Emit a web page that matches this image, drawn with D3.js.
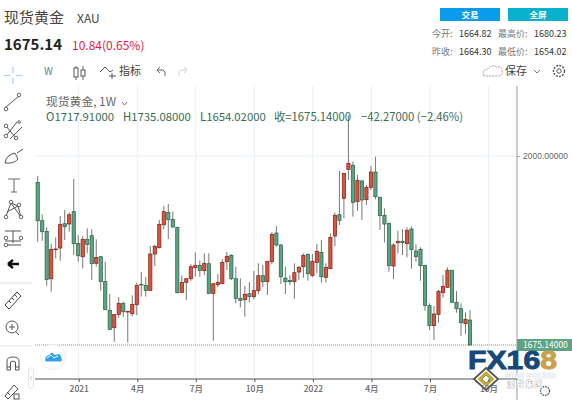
<!DOCTYPE html>
<html>
<head>
<meta charset="utf-8">
<script src="https://d3js.org/d3.v7.min.js"></script>
<style>
  html, body { margin: 0; padding: 0; background: #fff; overflow: hidden; }
  svg { display: block; font-family: "Noto Sans CJK SC", "Noto Sans", sans-serif; }
</style>
</head>
<body>
<div id="chart"></div>
<script>
// Weekly candles
const opens = [1954.7,1888.8,1870.5,1789.1,1839,1841.8,1883.6,1883.1,1904.3,1849.8,1826.9,1856.7,1863,1815.5,1826.9,1784.5,1734.7,1704.9,1727.8,1746.7,1731.8,1728.9,1744.4,1779.4,1777.6,1769,1831.5,1842.4,1881.9,1903.1,1891.1,1877.3,1765.6,1782.8,1789.1,1808,1812,1802.9,1814.9,1763.9,1778.8,1780.5,1818.3,1829.2,1789.1,1755.3,1753,1763.3,1758.2,1768.5,1794.3,1783.9,1818.3,1867.6,1847,1790.2,1786.2,1783.9,1800.6,1809.7,1830.9,1794.8,1817.2,1834.4,1791.4,1806.3,1862.4,1899.1,1927.3,1977.1,1984,1921.5,1957.1,1925,1946.2,1972.5,1929,1898,1884.3,1810.9,1851,1853.3,1849.3,1874.5,1836.7,1839.6,1812,1742.8,1708.4,1727.8,1765.1,1774.3,1803.5,1748.5,1737.6,1711.8,1717.91];
const highs = [1965.6,1899.7,1877.3,1848.7,1860.2,1896.8,1907.1,1902.6,1960.4,1864.2,1862.4,1875.6,1873.9,1856.7,1828,1818.3,1762.7,1728.4,1757.6,1749.6,1733.5,1760.4,1782.2,1800.6,1792,1845.2,1847.6,1889.9,1914,1917.5,1904.8,1878.5,1794.8,1789.7,1814.3,1834.4,1820.1,1832.6,1832.6,1781.1,1797.1,1822.3,1834.9,1831.5,1809.7,1789.7,1776.5,1783.4,1802.3,1815.5,1812.6,1819.5,1869.3,1879.6,1848.7,1809.7,1794.8,1815.5,1810.9,1832.6,1832.6,1831.5,1848.7,1855.6,1815.5,1867,1903.1,1974.2,1970.5,2070,1990.3,1967.4,1958.8,1950.2,1982.8,1998.9,1930.1,1910.1,1885.4,1849.9,1871.7,1874,1877.4,1878.5,1848.2,1843,1813.2,1746.8,1742.2,1769.7,1795.5,1808.6,1804,1768,1746.8,1731.3,1735.08];
const lows = [1852.7,1854.4,1777.1,1766.8,1824.1,1820.1,1855.6,1869.9,1829.8,1818.3,1806.9,1832.6,1786.8,1809.7,1768.5,1735.2,1700.9,1680.8,1722.1,1723.8,1679.6,1724.9,1726.6,1758.2,1758.2,1768.5,1810.9,1841.2,1873.9,1857.3,1877.3,1763.9,1765,1752.4,1785.7,1792.5,1792.5,1795.4,1762.7,1682.5,1774.2,1779.9,1804,1786.8,1746.7,1739.8,1723.8,1748.4,1753.6,1762.7,1774.2,1761,1813.7,1844.1,1779.9,1762.7,1778.2,1754.7,1786.8,1790.8,1785.7,1791.4,1798.3,1782.2,1782.2,1805.7,1845.2,1881.4,1892.9,1958.8,1895.7,1905.5,1890,1915.8,1941.6,1925.5,1872.8,1851.6,1801.2,1788.6,1832.7,1829.8,1825.8,1806.4,1818.4,1785.7,1734.2,1700.9,1683.7,1713.5,1756.5,1773.7,1747.9,1730.7,1690.6,1694,1675.14];
const closes = [1888.8,1869.9,1787.9,1839.5,1840.1,1882.5,1878.5,1899.1,1849.3,1828.6,1856.7,1848.1,1814.9,1825.8,1784.5,1735.8,1702,1727.8,1746.7,1732.4,1733,1745,1777.6,1778.2,1769,1831.5,1844.7,1882.5,1904.3,1890.5,1877.9,1765,1782.8,1789.1,1809.7,1812,1803.4,1815.5,1763.9,1780.5,1782.8,1817.2,1827.5,1789.1,1755.3,1751.9,1762.2,1758.2,1768.5,1794.3,1783.9,1818.9,1865.3,1847,1792.5,1783.9,1783.9,1799.4,1808.6,1829.2,1797.7,1818.9,1836.1,1792.5,1808.6,1860.2,1898,1889.4,1970.2,1987.4,1920.4,1958.2,1924.4,1946.2,1972.5,1930.1,1897.5,1883.1,1811.5,1847,1853.3,1851,1872.2,1839,1827,1811.5,1743.3,1708.4,1728.4,1767.4,1776,1803.5,1748.5,1737.6,1713.5,1719.3,1675.14];

// Tick positions are candle numbers, the axis has no gaps
const tickIndex = [9, 22, 35, 48, 61, 74, 87, 100];
const tickLabels = ['2021', '4月', '7月', '10月', '2022', '4月', '7月', '10月'];
const priceTicks = [2000];
const lastPrice = 1675.14;

const W = 572, H = 400;
const axisRight = 517, axisBottom = 379, plotTop = 86, plotLeft = 35;

const svg = d3.select('#chart').append('svg').attr('width', W).attr('height', H);

const x = d3.scaleLinear().domain([0, 96]).range([37.7, 470]);
const y = d3.scaleLinear().domain([2000, lastPrice]).range([156, 345]);

function label(text, px, py, size, color, opts = {}) {
  return svg.append('text')
    .attr('x', px).attr('y', py)
    .attr('font-size', size + 'px')
    .attr('fill', color)
    .attr('font-weight', opts.weight || 400)
    .attr('text-anchor', opts.anchor || 'start')
    .attr('font-family', opts.family || null)
    .text(text);
}

function icon(d, color = '#555', width = 1) {
  return svg.append('path').attr('d', d)
    .attr('fill', 'none').attr('stroke', color).attr('stroke-width', width);
}

function dot(cx, cy, r = 1.8) {
  svg.append('circle').attr('cx', cx).attr('cy', cy).attr('r', r)
    .attr('fill', '#fff').attr('stroke', '#555').attr('stroke-width', 0.9);
}

// Grid
svg.append('g').selectAll('line')
  .data(tickIndex)
  .join('line')
  .attr('x1', d => x(d) + 0.5).attr('x2', d => x(d) + 0.5)
  .attr('y1', plotTop).attr('y2', axisBottom)
  .attr('stroke', '#e9f0f5').attr('stroke-width', 1);

svg.append('g').selectAll('line')
  .data(priceTicks)
  .join('line')
  .attr('x1', plotLeft).attr('x2', axisRight)
  .attr('y1', d => y(d)).attr('y2', d => y(d))
  .attr('stroke', '#e9f0f5').attr('stroke-width', 1);

// Last price line
svg.append('line')
  .attr('x1', plotLeft).attr('x2', axisRight)
  .attr('y1', y(lastPrice)).attr('y2', y(lastPrice))
  .attr('stroke', '#5fa884').attr('stroke-width', 1)
  .attr('stroke-dasharray', '1 1');

// Candles
const candles = svg.append('g').selectAll('g')
  .data(d3.range(opens.length))
  .join('g');

candles.append('line')
  .attr('x1', i => x(i)).attr('x2', i => x(i))
  .attr('y1', i => y(highs[i])).attr('y2', i => y(lows[i]))
  .attr('stroke', '#777').attr('stroke-width', 1);

candles.append('rect')
  .attr('x', i => x(i) - 1.6)
  .attr('width', 3.2)
  .attr('y', i => y(Math.max(opens[i], closes[i])))
  .attr('height', i => Math.max(0.6, Math.abs(y(opens[i]) - y(closes[i]))))
  .attr('fill', i => closes[i] >= opens[i] ? '#d9543f' : '#5fa384')
  .attr('stroke', i => closes[i] >= opens[i] ? '#8c2a1e' : '#2c6c4f')
  .attr('stroke-width', 0.8);

// Axes
const xAxis = d3.axisBottom(x)
  .tickValues(tickIndex)
  .tickSize(3)
  .tickFormat((_, i) => tickLabels[i]);

const xG = svg.append('g')
  .attr('transform', `translate(0.5,${axisBottom})`)
  .call(xAxis);
xG.select('.domain').remove();
xG.selectAll('line').attr('stroke', '#555');
xG.selectAll('text')
  .attr('y', 7)
  .attr('font-size', '8.5px')
  .attr('font-family', '"Noto Sans CJK SC", sans-serif')
  .attr('font-weight', 500)
  .attr('fill', '#666');

svg.append('line')
  .attr('x1', plotLeft).attr('x2', axisRight)
  .attr('y1', axisBottom).attr('y2', axisBottom)
  .attr('stroke', '#555').attr('stroke-width', 1);

svg.append('line')
  .attr('x1', axisRight).attr('x2', axisRight)
  .attr('y1', plotTop).attr('y2', H)
  .attr('stroke', '#aaa').attr('stroke-width', 1.2);

const yAxis = d3.axisRight(y)
  .tickValues(priceTicks)
  .tickSize(3)
  .tickFormat(d => d.toFixed(5));

const yG = svg.append('g')
  .attr('transform', `translate(${axisRight},0)`)
  .call(yAxis);
yG.select('.domain').remove();
yG.selectAll('line').attr('stroke', '#aaa');
yG.selectAll('text')
  .attr('x', 6)
  .attr('font-size', '8.5px')
  .attr('fill', '#666');

// Last price tag
svg.append('rect')
  .attr('x', axisRight).attr('y', y(lastPrice) - 6)
  .attr('width', W - axisRight).attr('height', 12)
  .attr('fill', '#5fa384');
label(lastPrice.toFixed(5), 523, y(lastPrice) + 3.2, 8.5, '#fff');

// Header
label('现货黄金', 4, 23, 15, '#444');
label('XAU', 77, 23, 12, '#444');
label('1675.14', 4, 50, 15, '#222', { weight: 700 });
label('10.84(0.65%)', 72, 50, 12, '#e8194a');

svg.append('rect').attr('x', 440).attr('y', 8).attr('width', 60).attr('height', 13).attr('fill', '#0a9bec');
svg.append('rect').attr('x', 508).attr('y', 8).attr('width', 60).attr('height', 13).attr('fill', '#07b1cd');
label('交易', 470, 18, 8.5, '#fff', { anchor: 'middle', weight: 700 });
label('全屏', 538, 18, 8.5, '#fff', { anchor: 'middle', weight: 700 });

label('今开:', 432, 37, 9, '#777');
label('1664.82', 459, 37, 9, '#333');
label('最高价:', 498, 37, 9, '#777');
label('1680.23', 534, 37, 9, '#333');
label('昨收:', 432, 55, 9, '#777');
label('1664.30', 459, 55, 9, '#333');
label('最低价:', 498, 55, 9, '#777');
label('1654.02', 534, 55, 9, '#333');

// Toolbar
icon('M4 75.5H10M16 75.5H22M13 67V73M13 78V84', '#a8d0ea', 1.2);
label('W', 44, 75, 10, '#5a7fa0');
icon('M76 66V80M83 66V80', '#555', 0.9);
svg.append('rect').attr('x', 74).attr('y', 68).attr('width', 4).attr('height', 9).attr('fill', '#fff').attr('stroke', '#555');
svg.append('rect').attr('x', 81).attr('y', 70).attr('width', 4).attr('height', 6).attr('fill', '#fff').attr('stroke', '#555');
icon('M100 72L105 67L110 72L113 70M112 73V79M109 76H116', '#555', 1);
label('指标', 119, 75, 11, '#444');
icon('M157 70H163Q166 71 165 76M157 70L160 67M157 70L160 73', '#555', 0.9);
icon('M187 70H181Q178 71 179 76M187 70L184 67M187 70L184 73', '#ccc', 0.9);

icon('M484 76Q481 70 488 69Q491 64 497 67Q502 66 502 71Q503 76 498 76Z', '#999', 0.9).attr('stroke-dasharray', '2 1');
label('保存', 505, 75, 11, '#444');
icon('M534 70L537 73L540 70', '#666', 0.9);
svg.append('circle').attr('cx', 559).attr('cy', 71).attr('r', 2.2).attr('fill', 'none').attr('stroke', '#555');
svg.append('circle').attr('cx', 559).attr('cy', 71).attr('r', 5.5).attr('fill', 'none').attr('stroke', '#555').attr('stroke-dasharray', '2 1.2').attr('stroke-width', 1.4);

// Legend
label('现货黄金, 1W', 46, 106, 11.8, '#666');
icon('M122 102L124.5 105L127 102', '#666', 0.9);
const legendColor = '#3a6b55';
label('O1717.91000', 46, 121, 11.3, legendColor);
label('H1735.08000', 123, 121, 11.3, legendColor);
label('L1654.02000', 200, 121, 11.3, legendColor);
label('收=1675.14000', 274, 121, 11.3, legendColor);
label('−42.27000 (−2.46%)', 361, 121, 11.3, legendColor);

// Left tool strip
icon('M6 107L19 96');
dot(6, 109); dot(19, 95);
icon('M6 136L17 122M10 139L22 127M6 126L16 138');
dot(6, 136); dot(16, 138); dot(6, 126); dot(19, 122, 1.3);
icon('M5 163Q6 155 15 153L18 159Q14 164 5 163ZM17 153L23 149');
icon('M8 179H20M14 179V192M11 192H17', '#666', 1);
icon('M6 216L11 203L21 217L18 206L7 212M11 203L18 206');
dot(6, 217); dot(11, 202); dot(21, 217); dot(19, 205);
icon('M5 231H21M5 241H21M5 245H21M13 231V243');
dot(6, 238); dot(21, 238); dot(6, 245);
icon('M8 264H19M8 264L13 260M8 264L13 268', '#111', 2.4);

svg.append('line').attr('x1', 0).attr('x2', 32).attr('y1', 283).attr('y2', 283).attr('stroke', '#e3e3e8');
svg.append('line').attr('x1', 0).attr('x2', 32).attr('y1', 346).attr('y2', 346).attr('stroke', '#e3e3e8');

icon('M5 305L17 292L21 296L9 309ZM9 301L11 303M12 298L14 300M15 295L17 297', '#444', 1);
svg.append('circle').attr('cx', 12).attr('cy', 327).attr('r', 6).attr('fill', 'none').attr('stroke', '#555');
icon('M9 327H15M12 324V330M16 332L19 335');
icon('M7 370V361Q7 357 13 357Q19 357 19 361V370H15.5V362Q13 360 10.5 362V370ZM7 367H10.5M15.5 367H19', '#555', 1);
icon('M5 396L14 385L18 389L8 399ZM7 392L10 395', '#555', 1);
svg.append('rect').attr('x', 14).attr('y', 394).attr('width', 5).attr('height', 5).attr('fill', 'none').attr('stroke', '#555');

svg.append('rect').attr('x', 28.5).attr('y', 368).attr('width', 5).attr('height', 20).attr('rx', 2)
  .attr('fill', '#fff').attr('stroke', '#e5e5e5');
icon('M32 376L30 378L32 380', '#bbb', 0.8);

// Chart logo
svg.append('circle').attr('cx', 53).attr('cy', 357).attr('r', 12.5)
  .attr('fill', '#fff').attr('stroke', '#eee').attr('stroke-width', 1);
svg.append('path')
  .attr('d', 'M45.5 361.5Q44.5 356.5 48 355.5L52 352.5L55 355L59 354Q62.5 357 61.5 361.5Z')
  .attr('fill', '#2f9ff0');
icon('M47 358L51 355L54 358L58 356', '#fff', 1);

// Bottom right gear
svg.append('circle').attr('cx', 545).attr('cy', 391).attr('r', 4.5)
  .attr('fill', 'none').attr('stroke', '#555').attr('stroke-width', 1.3).attr('stroke-dasharray', '1.6 1');

// FX168 watermark
const mark = svg.append('text').attr('x', 468).attr('y', 369)
  .attr('font-family', '"Liberation Sans", sans-serif')
  .attr('font-weight', 700).attr('font-size', '26px')
  .attr('stroke-width', 0.9)
  .attr('textLength', 89).attr('lengthAdjust', 'spacingAndGlyphs');
mark.append('tspan').attr('fill', '#17487a').attr('stroke', '#17487a').text('FX16');
mark.append('tspan').attr('fill', '#c9a24a').attr('stroke', '#c9a24a').text('8');

svg.append('path').attr('d', 'M486 368L498 379L486 390L474 379Z').attr('fill', '#fff').attr('stroke', '#555').attr('stroke-width', 1.8);
svg.append('path').attr('d', 'M486 371L494.5 379L486 387L477.5 379Z').attr('fill', '#c8a93c');
svg.append('path').attr('d', 'M486 375L490 379L486 383L482 379Z').attr('fill', '#fff').attr('stroke', '#7da04a');

label('SINO SOUND', 505, 377.5, 8, '#fff', { weight: 700, family: '"Liberation Sans", sans-serif' })
  .attr('stroke', '#bbb').attr('stroke-width', 0.5).attr('paint-order', 'stroke');
label('漢  聲  集  團', 507, 387, 7.5, '#fff', { weight: 700 })
  .attr('stroke', '#aaa').attr('stroke-width', 0.6).attr('paint-order', 'stroke');

// Tick labels stay readable over the watermark
xG.raise();
</script>
</body>
</html>
